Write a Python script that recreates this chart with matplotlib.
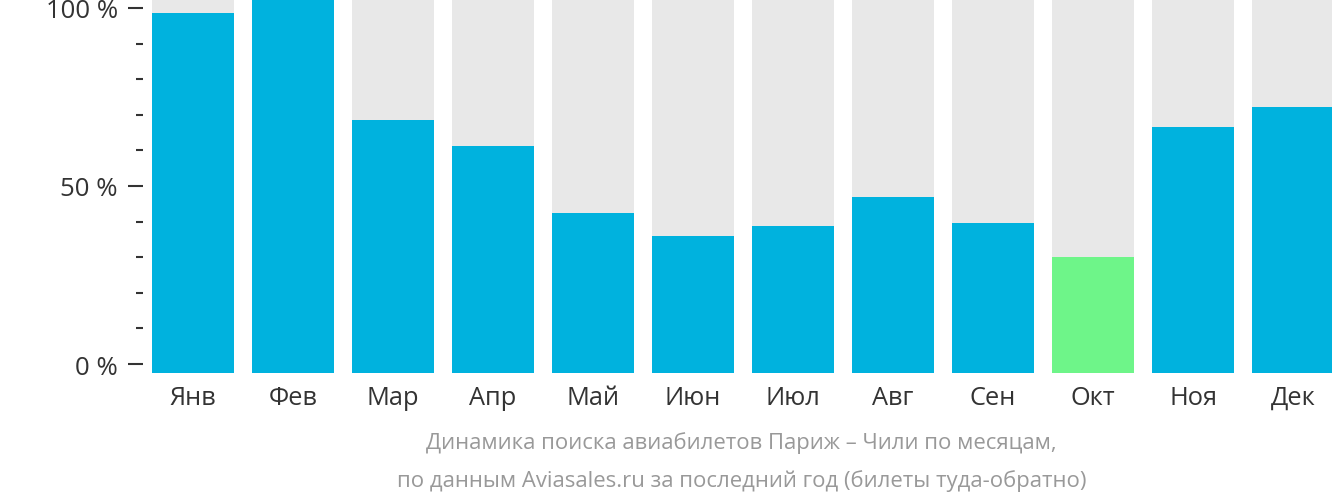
import matplotlib.pyplot as plt
import numpy as np
from matplotlib.ticker import FixedLocator, FuncFormatter

# Data (share of max searches, %)
months = ['Янв', 'Фев', 'Мар', 'Апр', 'Май', 'Июн', 'Июл', 'Авг', 'Сен', 'Окт', 'Ноя', 'Дек']
values = [98.5, 104, 68.5, 61.2, 42.4, 35.9, 38.7, 46.9, 39.6, 30.0, 66.5, 72.1]
lowest_month = 'Окт'

title_lines = ['Динамика поиска авиабилетов Париж – Чили по месяцам,',
               'по данным Aviasales.ru за последний год (билеты туда-обратно)']

blue = '#00b2de'
green = '#6ef589'
grey = '#e8e8e8'
text_dark = '#333333'

plt.rcParams['font.family'] = ['Open Sans', 'DejaVu Sans']

W, H = 1332, 502
fig = plt.figure(figsize=(W / 100, H / 100), dpi=100)
ax = fig.add_axes([143 / W, 1 - 374 / H, 1200 / W, 374 / H])

y_min, y_max = -2.5, 102.5
x = np.arange(len(months))
colors = [green if m == lowest_month else blue for m in months]

# grey background columns, then the values on top
ax.bar(x, [y_max + 10 - y_min] * len(x), bottom=y_min, width=0.82, color=grey, zorder=1)
ax.bar(x, np.array(values) - y_min, bottom=y_min, width=0.82, color=colors, zorder=2)

ax.set_xlim(-0.5, 11.5)
ax.set_ylim(y_min, y_max)

for s in ax.spines.values():
    s.set_visible(False)

ax.set_xticks(x)
ax.set_xticklabels(months, fontsize=18.3, color=text_dark)
ax.tick_params(axis='x', length=0, pad=8.5)

ax.yaxis.set_major_locator(FixedLocator([0, 50, 100]))
ax.yaxis.set_minor_locator(FixedLocator([10, 20, 30, 40, 60, 70, 80, 90]))
ax.yaxis.set_major_formatter(FuncFormatter(lambda v, p: f'{int(v)} %'))
ax.tick_params(axis='y', which='major', length=11, width=1.5, color=text_dark,
               labelsize=18.5, labelcolor=text_dark, pad=7)
ax.tick_params(axis='y', which='minor', length=5, width=1.5, color=text_dark)

fig.text(741 / W, 1 - 443 / H, title_lines[0], ha='center', va='center',
         fontsize=15.9, color='#999999')
fig.text(742 / W, 1 - 481 / H, title_lines[1], ha='center', va='center',
         fontsize=15.9, color='#999999')

fig.savefig('out.png', dpi=100)
